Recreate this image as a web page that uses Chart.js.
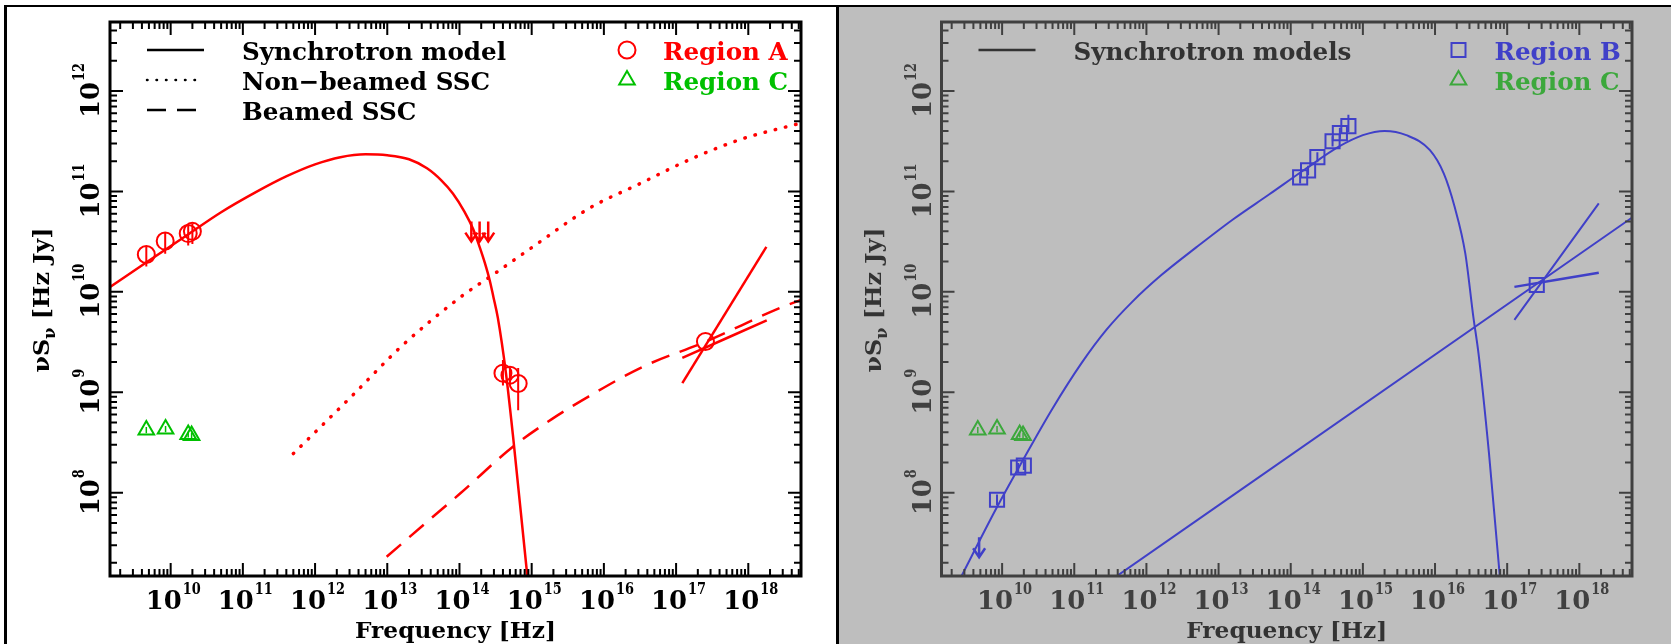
<!DOCTYPE html>
<html>
<head>
<meta charset="utf-8">
<script src="https://cdn.jsdelivr.net/npm/chart.js@4/dist/chart.umd.min.js"></script>
<style>
  body { margin: 0; background: #fff; }
  #wrap { position: relative; width: 1671px; height: 644px; overflow: hidden; background: #fff; }
  #graybg { position: absolute; left: 839px; top: 7px; width: 832px; height: 637px; background: #bebebe; }
  .rule { position: absolute; background: #000; }
  canvas { position: absolute; top: 0; }
</style>
</head>
<body>
<div id="wrap">
  <div id="graybg"></div>
  <div class="rule" style="left:4px;top:5px;width:1667px;height:2px"></div>
  <div class="rule" style="left:4px;top:5px;width:3px;height:639px"></div>
  <div class="rule" style="left:836px;top:5px;width:3px;height:639px"></div>
  <canvas id="left" width="836" height="644" style="left:0"></canvas>
  <canvas id="right" width="832" height="644" style="left:839px"></canvas>
</div>
<script>
// axis range and tick labels (powers of ten)
var xMin = 1.445e9, xMax = 5.37e18;
var yMin = 1.48e7, yMax = 4.86e12;
var xTickExp = [10, 11, 12, 13, 14, 15, 16, 17, 18];
var yTickExp = [8, 9, 10, 11, 12];

// ---- left panel: region A ----
var synA_x = [1.45e9, 4.8e9, 1.58e10, 5.0e10, 1.58e11, 3.98e11, 1.0e12, 2.24e12, 5.0e12, 1.0e13, 2.0e13, 3.55e13, 5.6e13, 8.1e13, 1.17e14, 1.55e14, 1.9e14, 2.24e14, 2.63e14, 2.95e14, 3.4e14, 4.4e14, 5.6e14, 8.7e14, 1.0e15];
var synA_y = [1.12e10, 2.0e10, 3.55e10, 6.2e10, 1.0e11, 1.41e11, 1.86e11, 2.19e11, 2.34e11, 2.29e11, 2.09e11, 1.7e11, 1.29e11, 9.55e10, 6.3e10, 4.2e10, 2.8e10, 1.95e10, 1.29e10, 8.9e9, 5.5e9, 1.55e9, 3.3e8, 1.48e7, 5.9e6];

var sscNB_x = [5.0e11, 3.2e12, 1.6e13, 1.0e14, 3.2e14, 1.0e15, 6.3e15, 3.2e16, 1.6e17, 7.9e17, 5.4e18];
var sscNB_y = [2.45e8, 9.1e8, 2.9e9, 8.7e9, 1.55e10, 2.75e10, 6.8e10, 1.2e11, 2.1e11, 3.3e11, 4.8e11];

var sscB_x = [9.8e12, 3.2e13, 1.02e14, 5.6e14, 1.9e15, 6.2e15, 3.5e16, 2.6e17, 3.0e18, 5.4e18];
var sscB_y = [2.3e7, 4.8e7, 9.8e7, 2.9e8, 5.4e8, 9.1e8, 1.8e9, 3.2e9, 7.1e9, 8.3e9];

var A_x = [4.6e9, 8.4e9, 1.75e10, 2.0e10, 4.0e14, 5.0e14, 6.5e14, 2.55e17];
var A_y = [2.35e10, 3.2e10, 3.8e10, 4.0e10, 1.55e9, 1.48e9, 1.22e9, 3.2e9];
var A_lo = [1.79e10, 2.4e10, 2.9e10, 3.0e10, 1.17e9, 1.25e9, 6.6e8, 3.2e9];
var A_hi = [2.8e10, 3.85e10, 4.6e10, 4.8e10, 2.1e9, 1.75e9, 1.74e9, 3.2e9];

var ulA_x = [1.46e14, 1.9e14, 2.5e14];
var ulA_y = [5.0e10, 5.0e10, 5.0e10];

var bowA_steep_x = [1.22e17, 1.78e18], bowA_steep_y = [1.23e9, 2.8e10];
var bowA_flat_x = [1.22e17, 1.8e18], bowA_flat_y = [2.2e9, 5.2e9];

// ---- region C (both panels) ----
var C_x = [4.6e9, 8.5e9, 1.75e10, 1.95e10];
var C_y = [4.2e8, 4.3e8, 3.8e8, 3.7e8];
var C_lo = [3.9e8, 4.0e8, 3.55e8, 3.45e8];
var C_hi = [4.5e8, 4.6e8, 4.05e8, 3.95e8];

// ---- right panel: region B ----
var synB1_x = [2.4e9, 8.5e9, 2.0e10, 5.0e10, 1.26e11, 2.8e11, 6.3e11, 1.58e12, 5.0e12, 1.58e13, 5.0e13, 1.58e14, 4.7e14, 1.0e15, 2.0e15, 4.0e15, 8.5e15, 1.32e16, 1.86e16, 2.63e16, 3.4e16, 4.0e16, 5.6e16, 7.9e16, 8.9e16];
var synB1_y = [1.23e7, 7.2e7, 2.19e8, 6.9e8, 1.95e9, 4.2e9, 7.9e9, 1.45e10, 2.8e10, 5.25e10, 9.3e10, 1.66e11, 2.8e11, 3.63e11, 4.0e11, 3.63e11, 2.57e11, 1.51e11, 7.1e10, 2.4e10, 5.6e9, 2.45e9, 2.45e8, 1.48e7, 6.3e6];
var synB2_x = [2.0e11, 5.4e18];
var synB2_y = [1.06e7, 5.5e10];

var B_x = [8.5e9, 1.67e10, 2.0e10, 1.35e14, 1.74e14, 2.34e14, 3.8e14, 4.8e14, 6.3e14, 2.57e17];
var B_y = [8.5e7, 1.78e8, 1.86e8, 1.38e11, 1.62e11, 2.19e11, 3.16e11, 3.8e11, 4.47e11, 1.17e10];
var B_lo = [7.5e7, 1.6e8, 1.68e8, 1.2e11, 1.45e11, 1.95e11, 2.8e11, 3.35e11, 3.9e11, 1.17e10];
var B_hi = [9.6e7, 1.98e8, 2.06e8, 1.55e11, 1.8e11, 2.45e11, 3.55e11, 4.3e11, 5.8e11, 1.17e10];

var ulB_x = [4.8e9];
var ulB_y = [3.6e7];

var bowB_steep_x = [1.26e17, 1.86e18], bowB_steep_y = [5.25e9, 7.6e10];
var bowB_flat_x = [1.26e17, 1.86e18], bowB_flat_y = [1.12e10, 1.55e10];

var FONT = '"DejaVu Serif", "Liberation Serif", serif';

function pts(xs, ys) {
  return xs.map(function (v, i) { return { x: v, y: ys[i] }; });
}
function bars(xs, lo, hi) {
  var out = [];
  for (var i = 0; i < xs.length; i++) {
    out.push({ x: xs[i], y: lo[i] }, { x: xs[i], y: hi[i] }, { x: xs[i], y: null });
  }
  return out;
}
function curve(xs, ys, color, width, dash, cap) {
  return { data: pts(xs, ys), showLine: true, borderColor: color, borderWidth: width,
    borderDash: dash || [], borderCapStyle: cap || 'butt', pointRadius: 0,
    cubicInterpolationMode: 'monotone', fill: false };
}
function segs(data, color, width) {
  return { data: data, showLine: true, spanGaps: false, borderColor: color, borderWidth: width, pointRadius: 0 };
}
function marks(xs, ys, style, r, color) {
  return { data: pts(xs, ys), pointStyle: style, pointRadius: r, pointBorderWidth: 2,
    pointBorderColor: color, pointBackgroundColor: 'rgba(0,0,0,0)', borderColor: color };
}

function wid(ctx, s, size, sq) {
  ctx.save();
  ctx.font = 'bold ' + size + 'px ' + FONT;
  var w = ctx.measureText(s).width * sq;
  ctx.restore();
  return w;
}
function put(ctx, s, x, y, size, sq) {
  ctx.save();
  ctx.font = 'bold ' + size + 'px ' + FONT;
  ctx.translate(x, y);
  ctx.scale(sq, 1);
  ctx.fillText(s, 0, 0);
  ctx.restore();
  return wid(ctx, s, size, sq);
}
// horizontal squeeze so that a reference string gets a given width
function squeeze(ctx, ref, size, target) {
  return target / wid(ctx, ref, size, 1);
}
function powLabel(ctx, e, cx, base) {
  var s1 = squeeze(ctx, '10', 26, 36), s2 = squeeze(ctx, '10', 17, 18);
  var w1 = wid(ctx, '10', 26, s1), w2 = wid(ctx, String(e), 17, s2);
  var x0 = cx - (w1 + w2) / 2;
  put(ctx, '10', x0, base, 26, s1);
  put(ctx, String(e), x0 + w1 + 1, base - 15, 17, s2);
}
function mark(ctx, style, x, y) {
  ctx.beginPath();
  if (style === 'circle') ctx.arc(x, y, 8.5, 0, Math.PI * 2);
  else if (style === 'triangle') { ctx.moveTo(x, y - 9); ctx.lineTo(x + 7.8, y + 4.5); ctx.lineTo(x - 7.8, y + 4.5); ctx.closePath(); }
  else ctx.rect(x - 7, y - 7, 14, 14);
  ctx.stroke();
}

var sedFrame = {
  id: 'sedFrame',
  afterDatasetsDraw: function (chart, args, o) {
    var ctx = chart.ctx, a = chart.chartArea, sx = chart.scales.x, sy = chart.scales.y;
    var i, e, m, v, p;
    ctx.save();

    // upper limits
    ctx.strokeStyle = o.limColor; ctx.lineWidth = 2.5;
    ctx.beginPath();
    for (i = 0; i < o.limX.length; i++) {
      var ax = sx.getPixelForValue(o.limX[i]), ay = sy.getPixelForValue(o.limY[i]);
      ctx.moveTo(ax, ay); ctx.lineTo(ax, ay + 20);
      ctx.moveTo(ax - 6, ay + 11); ctx.lineTo(ax, ay + 20); ctx.lineTo(ax + 6, ay + 11);
    }
    ctx.stroke();

    // frame and inward ticks
    ctx.strokeStyle = o.axisColor;
    ctx.lineWidth = 2;
    ctx.beginPath();
    for (e = 9; e <= 18; e++) {
      for (m = 1; m < 10; m++) {
        v = m * Math.pow(10, e);
        if (v < sx.min || v > sx.max) continue;
        p = sx.getPixelForValue(v);
        var lx = m === 1 ? 13 : 7;
        ctx.moveTo(p, a.bottom); ctx.lineTo(p, a.bottom - lx);
        ctx.moveTo(p, a.top); ctx.lineTo(p, a.top + lx);
      }
    }
    for (e = 7; e <= 12; e++) {
      for (m = 1; m < 10; m++) {
        v = m * Math.pow(10, e);
        if (v < sy.min || v > sy.max) continue;
        p = sy.getPixelForValue(v);
        var ly = m === 1 ? 13 : 7;
        ctx.moveTo(a.left, p); ctx.lineTo(a.left + ly, p);
        ctx.moveTo(a.right, p); ctx.lineTo(a.right - ly, p);
      }
    }
    ctx.stroke();
    ctx.lineWidth = 3;
    ctx.strokeRect(a.left, a.top, a.right - a.left, a.bottom - a.top);

    // tick labels
    ctx.fillStyle = o.axisColor;
    xTickExp.forEach(function (k) {
      powLabel(ctx, k, sx.getPixelForValue(Math.pow(10, k)) + 2, 609);
    });
    yTickExp.forEach(function (k) {
      ctx.save();
      ctx.translate(a.left - 11, sy.getPixelForValue(Math.pow(10, k)));
      ctx.rotate(-Math.PI / 2);
      powLabel(ctx, k, 0, 0);
      ctx.restore();
    });

    // axis titles
    ctx.fillStyle = o.textColor;
    var t = 'Frequency [Hz]';
    var st = squeeze(ctx, t, 23, 201);
    put(ctx, t, (a.left + a.right) / 2 - 100.5, 638, 23, st);

    ctx.save();
    ctx.translate(a.left - 61, 300);
    ctx.rotate(-Math.PI / 2);
    var sy2 = squeeze(ctx, '\u03bdS\u03bd [Hz Jy]', 23, 150);
    var w1 = wid(ctx, '\u03bdS', 23, sy2), w2 = wid(ctx, '\u03bd', 16, sy2), w3 = wid(ctx, ' [Hz Jy]', 23, sy2);
    var x0 = -(w1 + w2 + w3) / 2;
    put(ctx, '\u03bdS', x0, 0, 23, sy2);
    put(ctx, '\u03bd', x0 + w1, 6, 16, sy2);
    put(ctx, ' [Hz Jy]', x0 + w1 + w2, 0, 23, sy2);
    ctx.restore();

    // legend
    var sl = squeeze(ctx, 'Synchrotron model', 25, 264);
    o.lines.forEach(function (ln, k) {
      var y = 50 + 30 * k;
      ctx.strokeStyle = o.textColor; ctx.lineWidth = 2.5;
      ctx.setLineDash(ln.dash); ctx.lineCap = ln.cap;
      ctx.beginPath(); ctx.moveTo(a.left + 37, y); ctx.lineTo(a.left + 94, y); ctx.stroke();
      ctx.setLineDash([]); ctx.lineCap = 'butt';
      ctx.fillStyle = o.textColor;
      put(ctx, ln.label, a.left + 132, y + 10, 25, sl);
    });
    o.marks.forEach(function (mk, k) {
      var y = 50 + 30 * k;
      ctx.strokeStyle = mk.color; ctx.lineWidth = 2;
      mark(ctx, mk.style, a.left + 517, y);
      ctx.fillStyle = mk.color;
      put(ctx, mk.label, a.left + 553, y + 10, 25, sl);
    });
    ctx.restore();
  }
};

function makeChart(id, padLeft, padRight, datasets, frameOpts) {
  return new Chart(document.getElementById(id), {
    type: 'scatter',
    data: { datasets: datasets },
    options: {
      responsive: false,
      animation: false,
      devicePixelRatio: 1,
      layout: { padding: { left: padLeft, right: padRight, top: 22, bottom: 68 } },
      plugins: { legend: { display: false }, tooltip: { enabled: false }, sedFrame: frameOpts },
      scales: {
        x: { type: 'logarithmic', min: xMin, max: xMax, ticks: { display: false },
          grid: { display: false }, border: { display: false },
          afterFit: function (s) { s.height = 0; } },
        y: { type: 'logarithmic', min: yMin, max: yMax, ticks: { display: false },
          grid: { display: false }, border: { display: false },
          afterFit: function (s) { s.width = 0; } }
      }
    },
    plugins: [sedFrame]
  });
}

var RED = '#ff0000', GREEN_L = '#00c000';
var BLUE = '#4040c8', GREEN_R = '#3ca83c';

makeChart('left', 110, 35, [
  curve(synA_x, synA_y, RED, 2.5),
  curve(sscNB_x, sscNB_y, RED, 3.5, [0.5, 10], 'round'),
  curve(sscB_x, sscB_y, RED, 2.5, [19, 11]),
  curve(bowA_steep_x, bowA_steep_y, RED, 2.5),
  curve(bowA_flat_x, bowA_flat_y, RED, 2.5),
  segs(bars(A_x, A_lo, A_hi), RED, 2),
  marks(A_x, A_y, 'circle', 8.5, RED),
  segs(bars(C_x, C_lo, C_hi), GREEN_L, 1.5),
  marks(C_x, C_y, 'triangle', 9, GREEN_L)
], {
  axisColor: '#000', textColor: '#000', limX: ulA_x, limY: ulA_y, limColor: RED,
  lines: [
    { label: 'Synchrotron model', dash: [], cap: 'butt' },
    { label: 'Non\u2212beamed SSC', dash: [0.5, 9], cap: 'round' },
    { label: 'Beamed SSC', dash: [19, 11], cap: 'butt' }
  ],
  marks: [
    { label: 'Region A', style: 'circle', color: RED },
    { label: 'Region C', style: 'triangle', color: GREEN_L }
  ]
});

makeChart('right', 102.5, 39, [
  curve(synB1_x, synB1_y, BLUE, 2),
  curve(synB2_x, synB2_y, BLUE, 2),
  curve(bowB_steep_x, bowB_steep_y, BLUE, 2),
  curve(bowB_flat_x, bowB_flat_y, BLUE, 2.5),
  segs(bars(B_x, B_lo, B_hi), BLUE, 2),
  marks(B_x, B_y, 'rect', 10, BLUE),
  segs(bars(C_x, C_lo, C_hi), GREEN_R, 1.5),
  marks(C_x, C_y, 'triangle', 9, GREEN_R)
], {
  axisColor: '#404040', textColor: '#333333', limX: ulB_x, limY: ulB_y, limColor: BLUE,
  lines: [
    { label: 'Synchrotron models', dash: [], cap: 'butt' }
  ],
  marks: [
    { label: 'Region B', style: 'square', color: BLUE },
    { label: 'Region C', style: 'triangle', color: GREEN_R }
  ]
});
</script>
</body>
</html>
